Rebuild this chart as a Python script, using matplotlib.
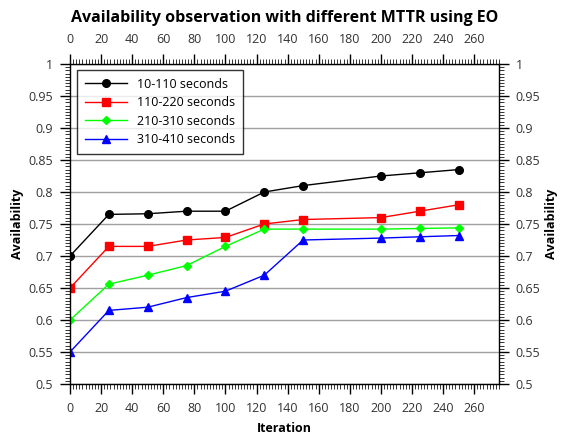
import matplotlib
matplotlib.use("Agg")
import matplotlib.pyplot as plt
from matplotlib.ticker import MultipleLocator, FuncFormatter

plt.rcParams['font.family'] = ['Open Sans', 'DejaVu Sans']

iterations = [0, 25, 50, 75, 100, 125, 150, 200, 225, 250]
mttr_10_110 = [0.700, 0.765, 0.766, 0.770, 0.770, 0.800, 0.810, 0.825, 0.830, 0.835]
mttr_110_220 = [0.650, 0.715, 0.715, 0.725, 0.729, 0.750, 0.757, 0.760, 0.770, 0.780]
mttr_210_310 = [0.600, 0.656, 0.670, 0.685, 0.715, 0.742, 0.742, 0.742, 0.743, 0.744]
mttr_310_410 = [0.550, 0.615, 0.620, 0.635, 0.645, 0.670, 0.725, 0.728, 0.730, 0.732]
labels = ['10-110 seconds', '110-220 seconds', '210-310 seconds', '310-410 seconds']

W, H = 561, 440
fig = plt.figure(figsize=(W / 100, H / 100), dpi=100)
ax = fig.add_axes([70 / W, 1 - 384 / H, (499 - 70) / W, (384 - 64) / H])

ax.plot(iterations, mttr_10_110, color='black', marker='o', markersize=5.5, linewidth=1, label=labels[0])
ax.plot(iterations, mttr_110_220, color='red', marker='s', markersize=5.5, linewidth=1, label=labels[1])
ax.plot(iterations, mttr_210_310, color='#00ff00', marker='D', markersize=4, linewidth=1, label=labels[2])
ax.plot(iterations, mttr_310_410, color='blue', marker='^', markersize=6, linewidth=1, label=labels[3])

ax.set_xlim(0, 276)
ax.set_ylim(0.5, 1.0)
ax.yaxis.grid(True, color='#a0a0a0', linewidth=1)
ax.set_axisbelow(True)

ax.xaxis.set_major_locator(MultipleLocator(20))
ax.xaxis.set_minor_locator(MultipleLocator(2))
ax.yaxis.set_major_locator(MultipleLocator(0.05))
ax.yaxis.set_minor_locator(MultipleLocator(0.005))
ax.yaxis.set_major_formatter(FuncFormatter(lambda v, p: f'{v:g}'))

ax.tick_params(which='major', direction='out', length=7, width=1, labelsize=9, labelcolor='#333333',
               pad=5, top=True, right=True, labeltop=True, labelright=True)
ax.tick_params(which='minor', direction='out', length=3.5, width=0.7, color='#333333', top=True, right=True)
ax.tick_params(axis='x', which='major', pad=6)

for s in ax.spines.values():
    s.set_linewidth(1)

ax.set_xlabel('Iteration', fontsize=9, fontweight='bold', labelpad=5)
ax.set_ylabel('Availability', fontsize=9, fontweight='bold', labelpad=3)
ax2 = ax.secondary_yaxis('right')
ax2.set_ticks([])
ax2.set_ylabel('Availability', fontsize=9, fontweight='bold', labelpad=33)
ax2.spines['right'].set_visible(False)

ax.set_title('Availability observation with different MTTR using EO', fontsize=11.5,
             fontweight='bold', pad=30)

leg = ax.legend(loc='upper left', fontsize=9, frameon=True, fancybox=False,
                edgecolor='black', borderpad=0.6, handlelength=3.4, labelspacing=0.45,
                handletextpad=0.8, borderaxespad=0, bbox_to_anchor=(7 / 429, 1 - 6 / 320))
leg.get_frame().set_linewidth(1)

fig.savefig('out.png', dpi=100)
